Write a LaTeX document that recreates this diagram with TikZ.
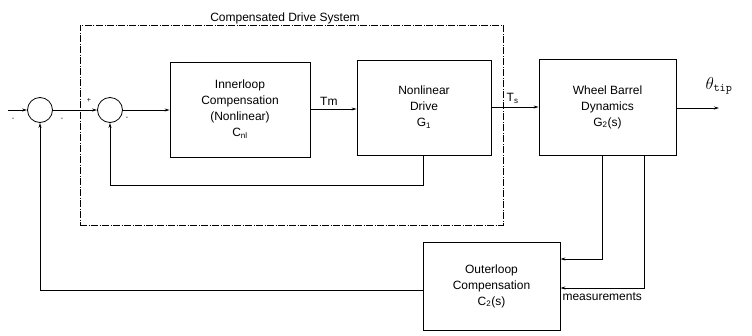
\documentclass[tikz,border=0pt]{standalone}
\usepackage{fontspec}
\setmainfont{Liberation Sans}
\usetikzlibrary{arrows.meta}
\begin{document}
\begin{tikzpicture}[x=1pt,y=-1pt,
  line width=0.8pt,
  txt/.style={font=\fontsize{12}{16}\selectfont, align=center},
  blk/.style={draw, rectangle, txt, inner sep=0pt},
  sumc/.style={draw, circle, minimum size=25pt, inner sep=0pt},
  arr/.style={-{Stealth[length=5pt,width=3pt]}},
  sgn/.style={font=\scriptsize, inner sep=0pt},
  dashbox/.style={draw, dash pattern=on 7pt off 1.5pt on 1pt off 1.5pt, line width=0.7pt, inner sep=0pt}
]
\useasboundingbox (0,0) rectangle (752,335);

% compensated drive system (dashed)
\node[dashbox, minimum width=423pt, minimum height=200pt] (cds) at (291.5,125) {};
\node[txt, anchor=base] (cdslbl) at (285,21) {Compensated Drive System};

% summing junctions
\node[sumc] (s1) at (40,110) {};
\node[sumc] (s2) at (110,110) {};
\coordinate (in) at (8,110);

% blocks
\node[blk, minimum width=140pt, minimum height=95pt] (inner) at (240,109.5)
  {Innerloop\\Compensation\\(Nonlinear)\\C\textsubscript{nl}};
\node[blk, minimum width=134pt, minimum height=95pt] (drive) at (424,107.5)
  {Nonlinear\\Drive\\G\textsubscript{1}};
\node[blk, minimum width=137pt, minimum height=96pt] (wheel) at (607.5,107)
  {Wheel Barrel\\Dynamics\\G\textsubscript{2}(s)};
\node[blk, minimum width=137pt, minimum height=88pt] (outer) at (491.5,286)
  {Outerloop\\Compensation\\C\textsubscript{2}(s)};
\coordinate (out) at (719,108);

% forward path
\draw[arr] (in) -- (s1.west);
\draw[arr] (s1.east) -- (s2.west);
\draw[arr] (s2.east) -- (s2.east -| inner.west);
\draw[arr] (inner.east |- 0,109) -- (drive.west |- 0,109) node[txt, pos=0.4, above=0pt] (tm) {Tm};
\draw[arr] (drive.east |- 0,107) -- (wheel.west |- 0,107) node[txt, pos=0.45, above=0pt] (ts) {T\textsubscript{s}};
\node[font=\fontsize{17}{19}\selectfont] (theta) at (719,86) {$\theta_{\mathtt{tip}}$};
\draw[arr] (wheel.east |- out) -- (out);

% inner feedback
\coordinate (fb1a) at (423,185);
\coordinate (fb1b) at (110,185);
\draw[arr] (drive.south -| fb1a) -- (fb1a) -- (fb1b) -- (s2.south);

% measurement feedbacks
\coordinate (m1) at (602,259);
\coordinate (m2) at (644,288);
\draw[arr] (wheel.south -| m1) -- (m1) -- (m1 -| outer.east);
\draw[arr] (wheel.south -| m2) -- (m2) -- (m2 -| outer.east)
  node[txt, pos=0.5, below=1pt] (meas) {measurements};

% outer feedback
\coordinate (fb2) at (40,290);
\draw[arr] (outer.west |- fb2) -- (fb2) -- (s1.south);

% signs
\node[sgn] (p1) at (13,119) {-};
\node[sgn] (p2) at (62,119) {-};
\node[sgn] (p3) at (89,100) {+};
\node[sgn] (p4) at (127,118) {-};
\end{tikzpicture}
\end{document}
